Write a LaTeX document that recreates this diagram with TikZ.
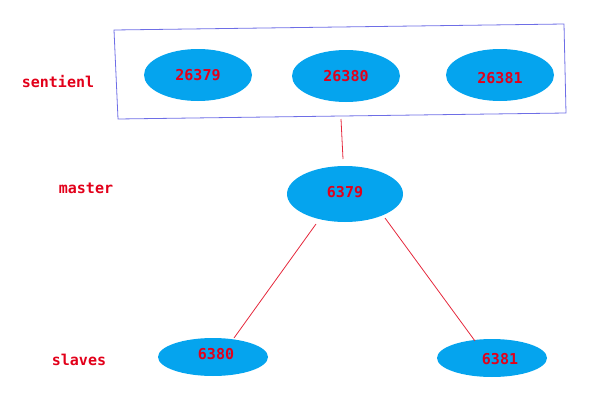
\documentclass[tikz,border=0pt]{standalone}
\usepackage{fontspec}
\setmonofont{DejaVu Sans Mono}
\usetikzlibrary{shapes.geometric}
\definecolor{nodeblue}{HTML}{05A4EE}
\definecolor{txtred}{HTML}{E2001A}
\definecolor{linered}{HTML}{E5283C}
\definecolor{boxblue}{HTML}{6E6EE6}
\begin{document}
\begin{tikzpicture}[x=1pt,y=-1pt,
  srv/.style={ellipse,fill=nodeblue,draw=none,inner sep=0pt,font=\ttfamily\fontsize{15}{15}\selectfont\bfseries,text=txtred},
  lbl/.style={font=\ttfamily\fontsize{15}{15}\selectfont\bfseries,text=txtred,inner sep=0pt},
  conn/.style={draw=linered,line width=0.8pt}]
\useasboundingbox (0,0) rectangle (616,415);
% sentinel group box
\draw[boxblue,line width=0.8pt] (114,30) -- (564,24) -- (566,113) -- (118,119) -- cycle;
% sentinels
\node[srv,minimum width=108,minimum height=52] (s1) at (198,75) {26379};
\node[srv,minimum width=108,minimum height=52] (s2) at (346,76) {26380};
\node[srv,minimum width=108,minimum height=52] (s3) at (500,75) {};
\node[lbl] (s3t) at (500,78) {26381};
% master
\node[srv,minimum width=116,minimum height=56] (m) at (345,194) {};
\node[lbl] (mt) at (345,192) {6379};
% slaves
\node[srv,minimum width=110,minimum height=38] (a) at (213,357) {};
\node[lbl] (at) at (216,354) {6380};
\node[srv,minimum width=110,minimum height=38] (b) at (492,358) {};
\node[lbl] (bt) at (500,359) {6381};
% labels
\node[lbl] (l1) at (58,82) {sentienl};
\node[lbl] (l2) at (86,188) {master};
\node[lbl] (l3) at (79,360) {slaves};
% connectors
\coordinate (c1) at (341,119);
\coordinate (c2) at (343,159);
\coordinate (c3) at (316,224);
\coordinate (c4) at (234,338);
\coordinate (c5) at (385,218);
\coordinate (c6) at (475,341);
\draw[conn] (c1) -- (c2);
\draw[conn] (c3) -- (c4);
\draw[conn] (c5) -- (c6);
\end{tikzpicture}
\end{document}
